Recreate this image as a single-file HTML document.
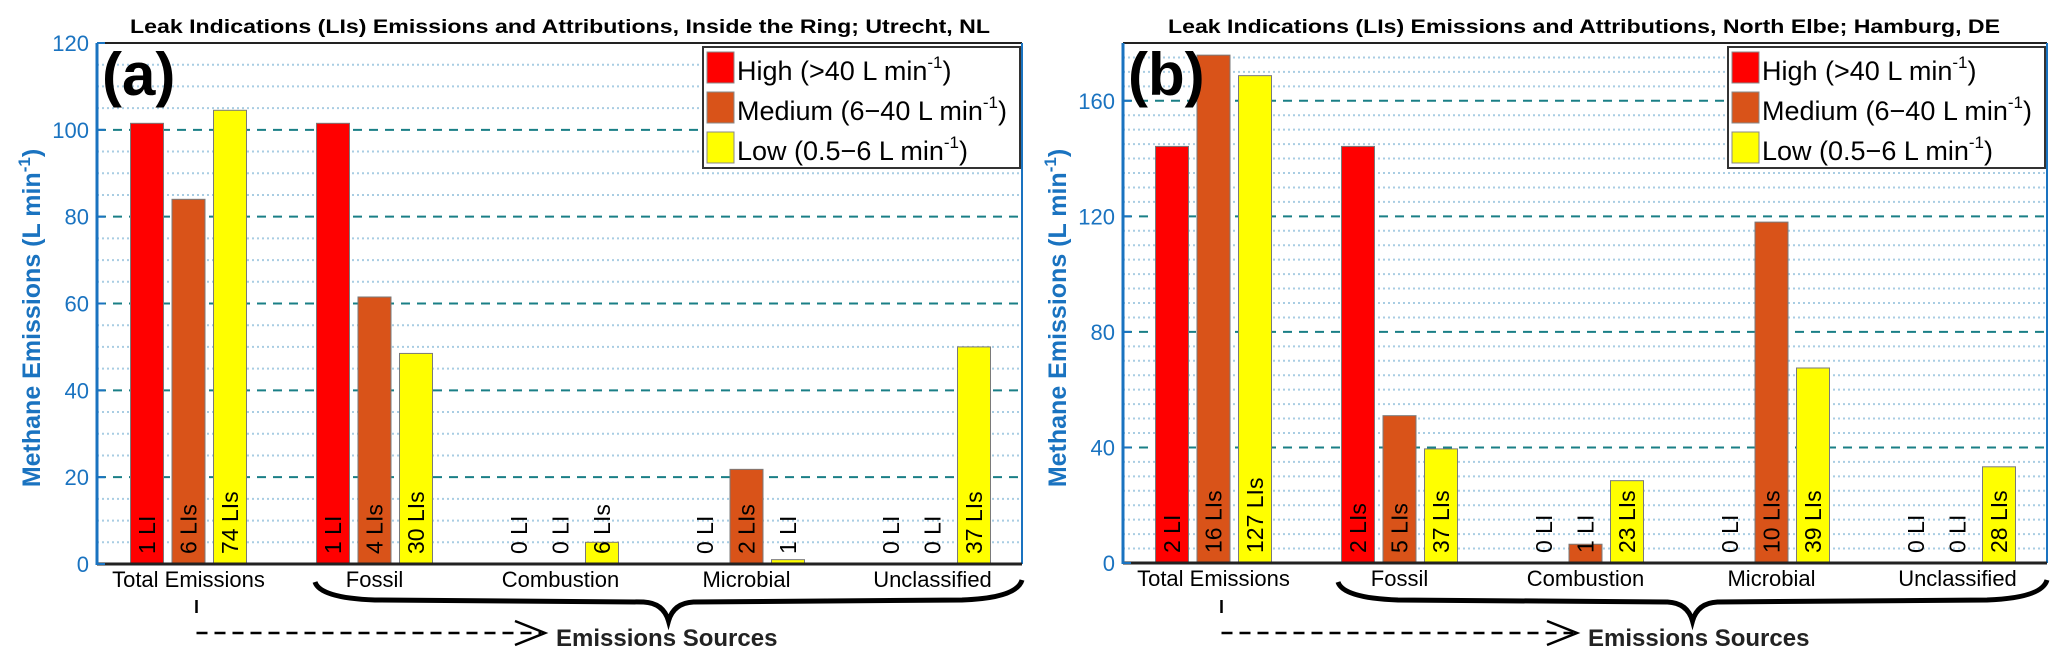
<!DOCTYPE html>
<html><head><meta charset="utf-8">
<style>
html,body{margin:0;padding:0;background:#fff;}
svg{display:block;font-family:"Liberation Sans",Arial,sans-serif;}
</style></head>
<body>
<svg id="fig" width="2067" height="651" viewBox="0 0 2067 651" xmlns="http://www.w3.org/2000/svg"></svg>
<script>
// ---- data ----
const categories = ["Total Emissions","Fossil","Combustion","Microbial","Unclassified"];
const seriesNames = ["High (>40 L min","Medium (6\u221240 L min","Low (0.5\u22126 L min"];
const aHigh = [101.5, 101.5, 0, 0, 0];
const aMedium = [84, 61.5, 0, 21.8, 0];
const aLow = [104.5, 48.5, 5, 1, 50];
const aCounts = [["1 LI","6 LIs","74 LIs"],["1 LI","4 LIs","30 LIs"],["0 LI","0 LI","6 LIs"],["0 LI","2 LIs","1 LI"],["0 LI","0 LI","37 LIs"]];
const aTicks = [0,20,40,60,80,100,120];
const bHigh = [144.2, 144.2, 0, 0, 0];
const bMedium = [175.8, 51, 6.5, 118, 0];
const bLow = [168.7, 39.5, 28.5, 67.5, 33.3];
const bCounts = [["2 LI","16 LIs","127 LIs"],["2 LIs","5 LIs","37 LIs"],["0 LI","1 LI","23 LIs"],["0 LI","10 LIs","39 LIs"],["0 LI","0 LI","28 LIs"]];
const bTicks = [0,40,80,120,160];

const NS="http://www.w3.org/2000/svg";
const svg=document.getElementById('fig');
const colors=["#ff0000","#d95319","#ffff00"];
function mk(tag,attrs,parent,text){
  const e=document.createElementNS(NS,tag);
  for(const k in attrs)e.setAttribute(k,attrs[k]);
  if(text!==undefined)e.textContent=text;
  (parent||svg).appendChild(e);return e;
}

function panel(p){
  const g=mk('g',{});
  
  
  const y=v=>p.y0-(v/p.ymax)*(p.y0-p.top);
  const xc=i=>p.c0+i*p.pitch;
  for(let v=5;v<p.ymax;v+=5){
    if(p.ticks.indexOf(v)>=0)continue;
    const l=mk('line',{x1:p.left,x2:p.right,y1:y(v),y2:y(v),stroke:'#a9cde3','stroke-width':2,'stroke-dasharray':'2 3'},g);
    
    
  }
  p.ticks.forEach(v=>{
    if(v===0||v>=p.ymax)return;
    const l=mk('line',{x1:p.left,x2:p.right,y1:y(v),y2:y(v),stroke:'#1a7f86','stroke-width':2,'stroke-dasharray':'9 7'},g);
    
    
  });
  const series=[p.high,p.medium,p.low];
  const names=['high','medium','low'];
  for(let i=0;i<categories.length;i++){
    for(let s=0;s<3;s++){
      const cx=xc(i)+(s-1)*41.5;
      const v=series[s][i];
      if(v>0){
        const r=mk('rect',{x:cx-16.5,y:y(v),width:33,height:p.y0-y(v),fill:colors[s],stroke:'#7a7a7a','stroke-width':1},g);
        
        
      }
      const t=mk('text',{x:0,y:0,'font-size':23,fill:'#000',transform:`translate(${cx+8},${p.y0-10}) rotate(-90)`},g,p.counts[i][s]);
      
      
    }
    const cl=mk('text',{x:xc(i),y:p.y0+23,'font-size':22,'text-anchor':'middle',fill:'#000'},g,categories[i]);
    
    
  }
  const top=mk('line',{x1:p.left,x2:p.right,y1:p.top,y2:p.top,stroke:'#222','stroke-width':2},g);
  
  const rgt=mk('line',{x1:p.right,x2:p.right,y1:p.top,y2:p.y0,stroke:'#1a73c0','stroke-width':2},g);
  
  const bot=mk('line',{x1:p.left,x2:p.right,y1:p.y0,y2:p.y0,stroke:'#222','stroke-width':3},g);
  
  const lft=mk('line',{x1:p.left,x2:p.left,y1:p.top,y2:p.y0+1,stroke:'#1a73c0','stroke-width':3},g);
  
  p.ticks.forEach(v=>{
    const tk=mk('line',{x1:p.left,x2:p.left+8,y1:y(v),y2:y(v),stroke:'#1a73c0','stroke-width':2},g);
    
    const tl=mk('text',{x:p.left-8,y:y(v)+8,'font-size':22,'text-anchor':'end',fill:'#1a73c0'},g,String(v));
    
  });
  const yt=mk('text',{x:0,y:0,'font-size':25,'font-weight':'bold','text-anchor':'middle',fill:'#1a73c0',transform:`translate(${p.ytx},318) rotate(-90)`},g);
  
  mk('tspan',{},yt,'Methane Emissions (L min');
  mk('tspan',{dy:-10,'font-size':17},yt,'-1');
  mk('tspan',{dy:10},yt,')');
  const tt=mk('text',{x:(p.tx1+p.tx2)/2,y:33,'font-size':19,'font-weight':'bold','text-anchor':'middle',textLength:p.tx2-p.tx1,lengthAdjust:'spacingAndGlyphs',fill:'#000'},g,p.title);
  
  const pl=mk('text',{x:p.left+5,y:95,'font-size':60,'font-weight':'bold',fill:'#000'},g,'('+p.id+')');
  
  const lg=mk('g',{},g);
  
  mk('rect',{x:p.lx,y:47,width:317,height:121,fill:'#fff',stroke:'#333','stroke-width':2},lg);
  for(let s=0;s<3;s++){
    const ey=52+s*40;
    const e=mk('g',{},lg);
    
    
    mk('rect',{x:p.lx+4,y:ey,width:27,height:31,fill:colors[s],stroke:'#888','stroke-width':1},e);
    const lt=mk('text',{x:p.lx+34,y:ey+28,'font-size':27,fill:'#000'},e);
    mk('tspan',{},lt,seriesNames[s]);
    mk('tspan',{dy:-12,'font-size':17},lt,'-1');
    mk('tspan',{dy:12},lt,')');
  }
  const bx1=p.bx1,bx2=p.right,bm=(bx1+bx2)/2;
  const br=mk('path',{d:`M${bx1},582 Q${bx1+5},598 ${bx1+60},600 L${bm-25},602 Q${bm-5},603 ${bm},621 Q${bm+5},603 ${bm+25},602 L${bx2-60},600 Q${bx2-5},598 ${bx2},580`,fill:'none',stroke:'#000','stroke-width':5},g);
  
  const ax=xc(0)+8;
  const ar=mk('g',{},g);
  
  mk('line',{x1:ax,x2:ax,y1:600,y2:613,stroke:'#000','stroke-width':2.5},ar);
  mk('line',{x1:ax,x2:p.arrowTip-4,y1:633,y2:633,stroke:'#000','stroke-width':2.5,'stroke-dasharray':'11 7'},ar);
  mk('path',{d:`M${p.arrowTip-30},621 L${p.arrowTip},633 L${p.arrowTip-30},645`,fill:'none',stroke:'#000','stroke-width':2.5},ar);
  const st=mk('text',{x:p.arrowTip+11,y:646,'font-size':24,'font-weight':'bold',fill:'#222'},g,'Emissions Sources');
  
}

panel({id:'a',left:97,right:1022,top:43,y0:564,ymax:120,ticks:aTicks,c0:188.5,pitch:186,
  high:aHigh,medium:aMedium,low:aLow,counts:aCounts,ytx:40,
  title:'Leak Indications (LIs) Emissions and Attributions, Inside the Ring; Utrecht, NL',tx1:130,tx2:990,
  lx:703,bx1:315,arrowTip:545});
panel({id:'b',left:1123,right:2047,top:43,y0:563,ymax:180,ticks:bTicks,c0:1213.5,pitch:186,
  high:bHigh,medium:bMedium,low:bLow,counts:bCounts,ytx:1066,
  title:'Leak Indications (LIs) Emissions and Attributions, North Elbe; Hamburg, DE',tx1:1168,tx2:2000,
  lx:1728,bx1:1338,arrowTip:1577});
</script>
</body></html>
